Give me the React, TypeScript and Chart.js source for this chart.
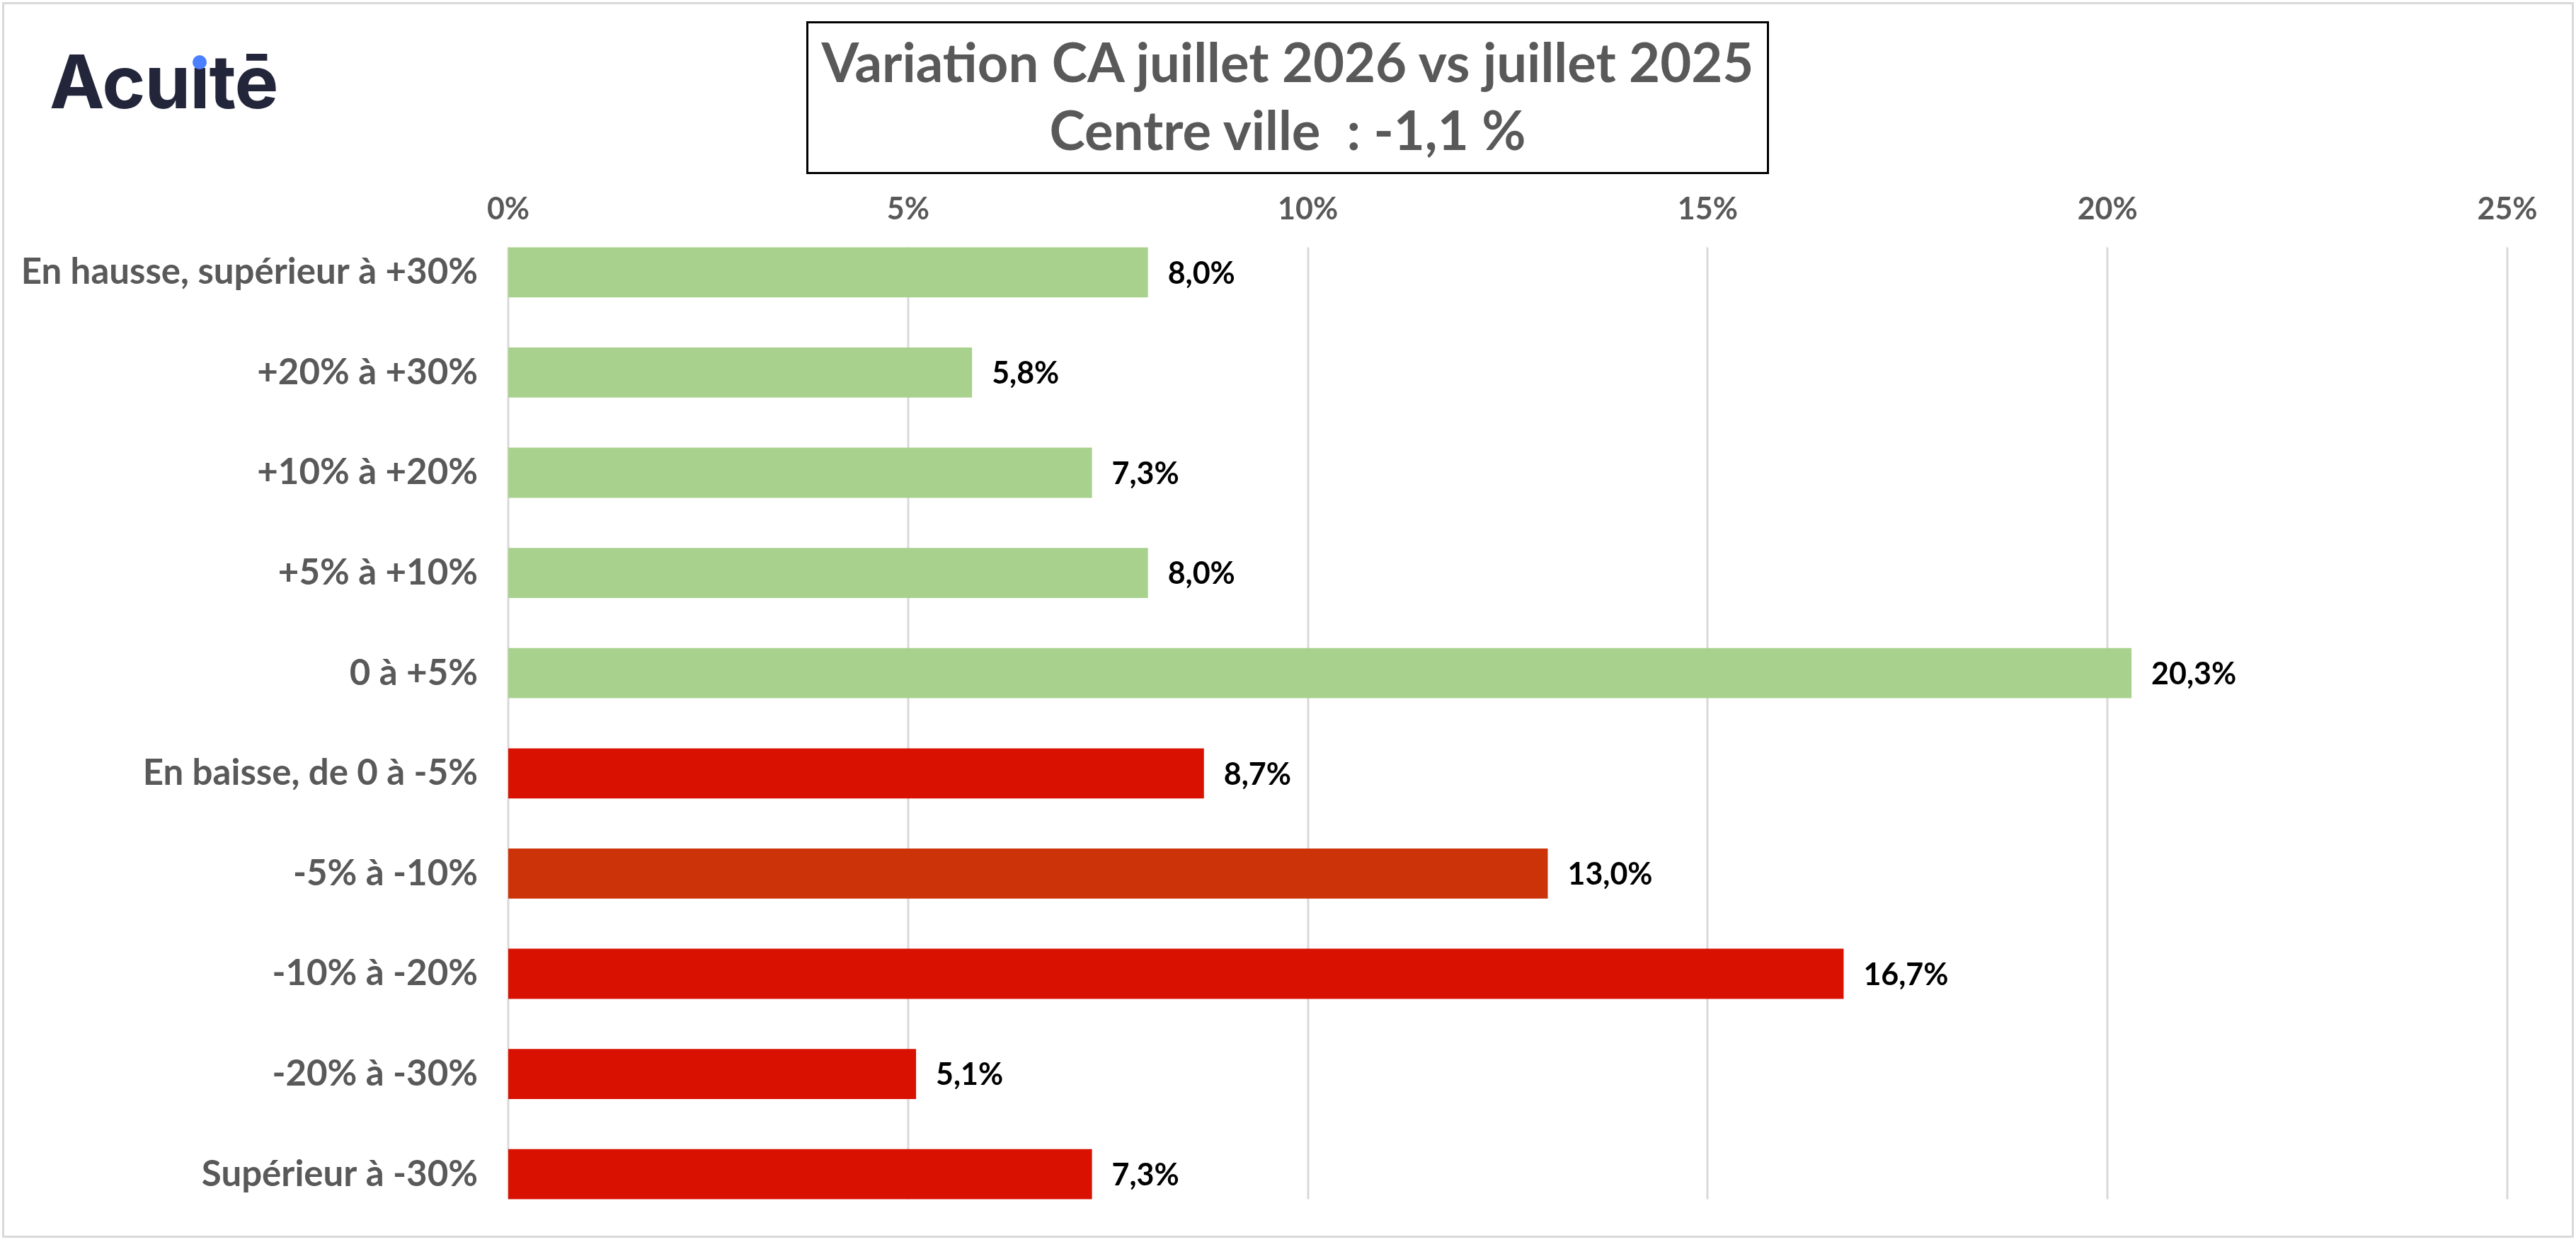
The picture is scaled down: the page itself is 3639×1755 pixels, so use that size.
import React, { useEffect, useRef } from "react";
import { Chart, registerables } from "chart.js";

Chart.register(...registerables);

const categories = [
  "En hausse, supérieur à +30%",
  "+20% à +30%",
  "+10% à +20%",
  "+5% à +10%",
  "0 à +5%",
  "En baisse, de 0 à -5%",
  "-5% à -10%",
  "-10% à -20%",
  "-20% à -30%",
  "Supérieur à -30%",
];
const shares = [8.0, 5.8, 7.3, 8.0, 20.3, 8.7, 13.0, 16.7, 5.1, 7.3];
const barColors = [
  "#A9D18E",
  "#A9D18E",
  "#A9D18E",
  "#A9D18E",
  "#A9D18E",
  "#D81100",
  "#CC3309",
  "#D81100",
  "#D81100",
  "#D81100",
];
const xMin = 0;
const xMax = 25;
const xStep = 5;

const FONT = "Lato, 'Open Sans', sans-serif";

const fmt = (v: number) => v.toFixed(1).replace(".", ",") + "%";

// gridlines only span the bars (like the Excel original), plus value labels
const barExtras = {
  id: "barExtras",
  beforeDatasetsDraw(chart: any) {
    const meta = chart.getDatasetMeta(0);
    if (!meta.data.length) return;
    const first = meta.data[0];
    const last = meta.data[meta.data.length - 1];
    const top = first.y - first.height / 2;
    const bottom = last.y + last.height / 2;
    const x = chart.scales.x;
    const ctx = chart.ctx;
    ctx.save();
    ctx.strokeStyle = "#D9D9D9";
    ctx.lineWidth = 3;
    x.ticks.forEach((t: any) => {
      const px = Math.round(x.getPixelForValue(t.value));
      ctx.beginPath();
      ctx.moveTo(px, top);
      ctx.lineTo(px, bottom);
      ctx.stroke();
    });
    ctx.restore();
  },
  afterDatasetsDraw(chart: any) {
    const meta = chart.getDatasetMeta(0);
    const ctx = chart.ctx;
    ctx.save();
    ctx.font = `bold 43px ${FONT}`;
    ctx.fillStyle = "#000000";
    ctx.textAlign = "left";
    ctx.textBaseline = "middle";
    meta.data.forEach((bar: any, i: number) => {
      ctx.fillText(fmt(shares[i]), bar.x + 28, bar.y + 2);
    });
    ctx.restore();
  },
};

function BarChart() {
  const canvasRef = useRef<HTMLCanvasElement | null>(null);
  const chartRef = useRef<Chart | null>(null);

  useEffect(() => {
    if (!canvasRef.current) return;
    if (chartRef.current) chartRef.current.destroy();

    chartRef.current = new Chart(canvasRef.current, {
      type: "bar",
      data: {
        labels: categories,
        datasets: [
          {
            data: shares,
            backgroundColor: barColors,
            borderWidth: 0,
            barPercentage: 0.5,
            categoryPercentage: 1,
          },
        ],
      },
      options: {
        indexAxis: "y",
        animation: false,
        responsive: true,
        maintainAspectRatio: false,
        layout: { padding: { top: 0, left: 0, right: 97, bottom: 25 } },
        plugins: {
          legend: { display: false },
          tooltip: { enabled: false },
          title: { display: false },
        },
        scales: {
          x: {
            position: "top",
            min: xMin,
            max: xMax,
            grid: { display: false, drawTicks: false },
            border: { display: false },
            ticks: {
              stepSize: xStep,
              padding: -8,
              color: "#595959",
              font: { family: FONT, size: 43, weight: "bold" },
              callback: (v: any) => `${v}%`,
            },
            afterFit: (scale: any) => {
              scale.height = 314;
            },
          },
          y: {
            grid: { display: false, drawTicks: false },
            border: { display: false },
            ticks: {
              padding: 43,
              color: "#595959",
              font: { family: FONT, size: 51, weight: "bold" },
            },
            afterFit: (scale: any) => {
              scale.width = 718;
              scale.paddingTop = 0;
              scale.paddingBottom = 0;
            },
          },
        },
      },
      plugins: [barExtras],
    });

    return () => {
      if (chartRef.current) {
        chartRef.current.destroy();
        chartRef.current = null;
      }
    };
  }, []);

  return <canvas ref={canvasRef} />;
}

export default function App() {
  useEffect(() => {
    document.body.style.margin = "0";
  }, []);

  return (
    <div
      style={{
        position: "relative",
        width: 3639,
        height: 1755,
        background: "#ffffff",
        overflow: "hidden",
      }}
    >
      <div style={{ position: "absolute", left: 0, top: 0, width: 3639, height: 1755 }}>
        <BarChart />
      </div>

      {/* outer frame */}
      <div
        style={{
          position: "absolute",
          left: 3,
          top: 3,
          width: 3627,
          height: 1740,
          border: "3px solid #D9D9D9",
          pointerEvents: "none",
        }}
      />

      {/* logo */}
      <div
        style={{
          position: "absolute",
          left: 70,
          top: 63,
          fontFamily: "Inter, sans-serif",
          fontWeight: 700,
          fontSize: 104,
          lineHeight: 1,
          color: "#23263A",
          letterSpacing: -1,
          whiteSpace: "nowrap",
        }}
      >
        Acu
        <span style={{ position: "relative", display: "inline-block" }}>
          ı
          <span
            style={{
              position: "absolute",
              left: "50%",
              top: 15,
              width: 20,
              height: 20,
              marginLeft: -10,
              borderRadius: "50%",
              background: "#4A7FFF",
            }}
          />
        </span>
        tē
      </div>

      {/* title box */}
      <div
        style={{
          position: "absolute",
          left: 1139,
          top: 30,
          width: 1354,
          height: 210,
          border: "3px solid #000000",
          background: "#ffffff",
          boxSizing: "content-box",
          fontFamily: FONT,
          fontWeight: 700,
          fontSize: 76,
          lineHeight: "96px",
          color: "#595959",
          textAlign: "center",
          whiteSpace: "pre",
        }}
      >
        <div style={{ marginTop: 6 }}>Variation CA juillet 2026 vs juillet 2025</div>
        <div>{"Centre ville  : -1,1 %"}</div>
      </div>
    </div>
  );
}
